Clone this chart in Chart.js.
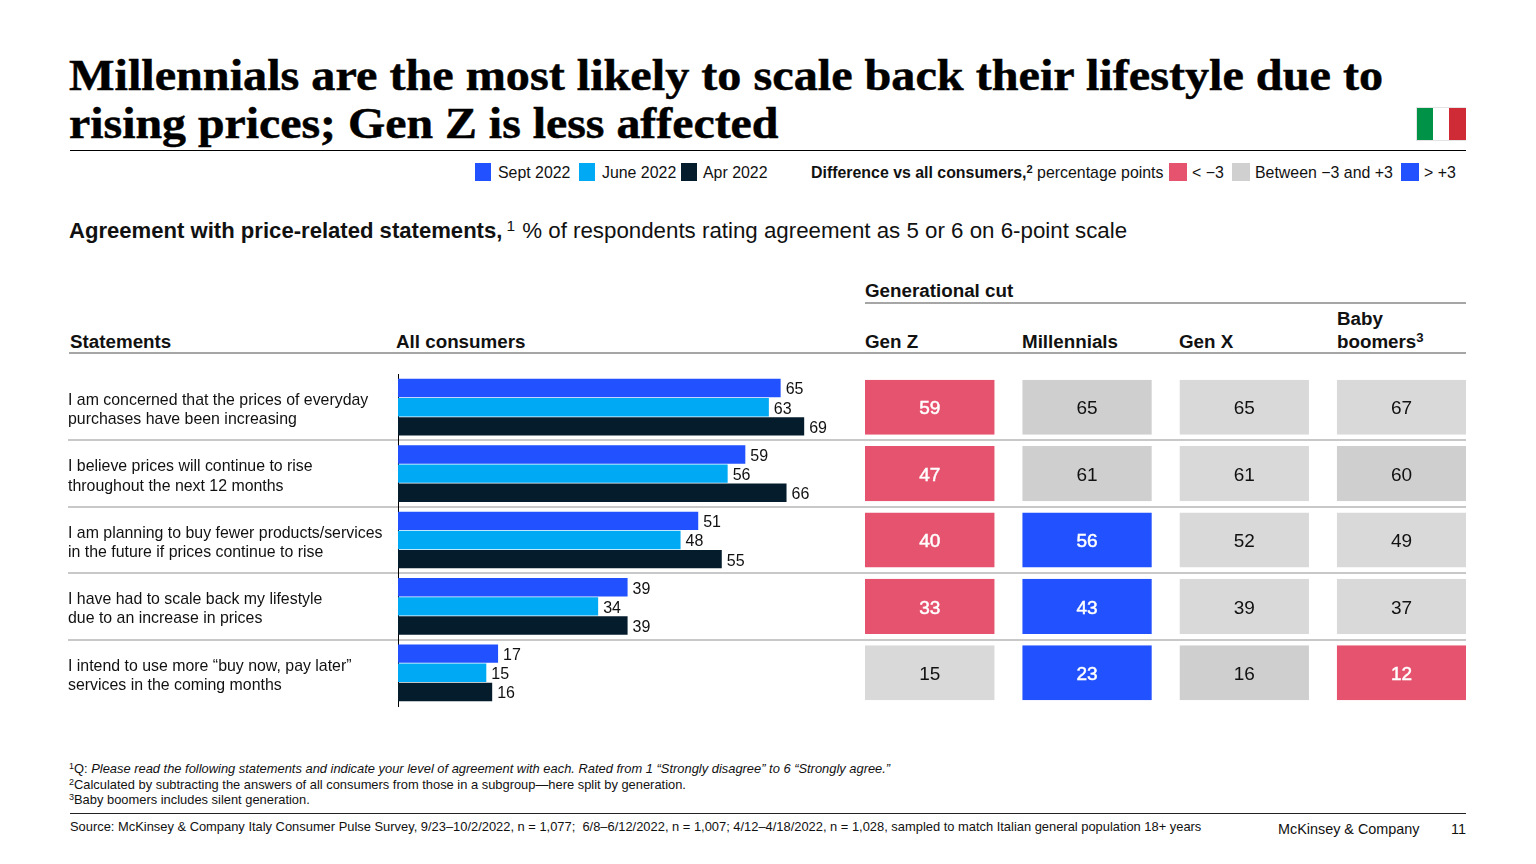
<!DOCTYPE html>
<html lang="en">

<head>
    <meta charset="UTF-8">
    <title>Millennials are the most likely to scale back their lifestyle</title>
    <script src="https://cdn.jsdelivr.net/npm/chart.js"></script>
    <style>
        body { margin: 0; background: #fff; width: 1536px; height: 864px; overflow: hidden; position: relative;
               font-family: "Liberation Sans", Arial, sans-serif; color: #111; }
        canvas { position: absolute; }
        .t { position: absolute; white-space: nowrap; line-height: 1; }
        .title { font-family: "Liberation Serif", serif; font-weight: bold; font-size: 45px; color: #000; left: 69px;
                 transform-origin: left top; -webkit-text-stroke: 0.5px #000; }
        .head { font-weight: bold; font-size: 18.8px; }
        .leg { font-size: 15.9px; top: 165px; }
        .foot { font-size: 12.9px; left: 69px; }
        .sw { position: absolute; top: 163px; width: 16px; height: 18px; }
        .sw.big { width: 18px; }
        .rule { position: absolute; }
        sup { font-size: 70%; line-height: 0; vertical-align: baseline; position: relative; top: -0.45em; }
    </style>
</head>

<body>
    <div class="t title" style="top:53px;transform:scaleX(1.071)">Millennials are the most likely to scale back their lifestyle due to</div>
    <div class="t title" style="top:101px;transform:scaleX(1.063)">rising prices; Gen Z is less affected</div>
    <div class="rule" style="left:70px;top:150px;width:1396px;height:1px;background:#000"></div>

    <div class="rule" style="left:1416px;top:107px;width:50px;height:34px;background:#e4e4e4"></div>
    <div class="rule" style="left:1417px;top:108px;width:16px;height:32px;background:#009246"></div>
    <div class="rule" style="left:1433px;top:108px;width:16px;height:32px;background:#fff"></div>
    <div class="rule" style="left:1449px;top:108px;width:17px;height:32px;background:#ce2b37"></div>

    <div class="sw" style="left:475px;background:#2251ff"></div>
    <div class="t leg" style="left:498px">Sept 2022</div>
    <div class="sw" style="left:579px;background:#00a9f4"></div>
    <div class="t leg" style="left:602px">June 2022</div>
    <div class="sw" style="left:681px;background:#051c2c"></div>
    <div class="t leg" style="left:703px">Apr 2022</div>
    <div class="t leg" style="left:811px"><b>Difference vs all consumers,<sup>2</sup></b> percentage points</div>
    <div class="sw big" style="left:1169px;background:#e6536f"></div>
    <div class="t leg" style="left:1192px">&lt; −3</div>
    <div class="sw big" style="left:1232px;background:#d0d0d0"></div>
    <div class="t leg" style="left:1255px">Between −3 and +3</div>
    <div class="sw big" style="left:1401px;background:#2251ff"></div>
    <div class="t leg" style="left:1424px">&gt; +3</div>

    <div class="t" style="left:69px;top:220px;font-size:22.1px"><b>Agreement with price-related statements,</b><sup style="margin-left:4px">1</sup><span style="font-size:22.3px;margin-left:1px"> % of respondents rating agreement as 5 or 6 on 6-point scale</span></div>

    <div class="t head" style="left:865px;top:282px">Generational cut</div>
    <div class="rule" style="left:865px;top:302px;width:601px;height:2px;background:#a6a6a6"></div>
    <div class="t head" style="left:70px;top:333px">Statements</div>
    <div class="t head" style="left:396px;top:333px">All consumers</div>
    <div class="t head" style="left:865px;top:333px">Gen Z</div>
    <div class="t head" style="left:1022px;top:333px">Millennials</div>
    <div class="t head" style="left:1179px;top:333px">Gen X</div>
    <div class="t head" style="left:1337px;top:310px">Baby</div>
    <div class="t head" style="left:1337px;top:333px">boomers<sup>3</sup></div>
    <div class="rule" style="left:69px;top:352px;width:1397px;height:2px;background:#a6a6a6"></div>

    <canvas id="barChart" style="left:0;top:370px"></canvas>
    <canvas id="cellChart" style="left:865px;top:370px"></canvas>

    <div class="t foot" style="top:763px"><sup>1</sup>Q: <i>Please read the following statements and indicate your level of agreement with each. Rated from 1 “Strongly disagree” to 6 “Strongly agree.”</i></div>
    <div class="t foot" style="top:779px"><sup>2</sup>Calculated by subtracting the answers of all consumers from those in a subgroup—here split by generation.</div>
    <div class="t foot" style="top:794px"><sup>3</sup>Baby boomers includes silent generation.</div>
    <div class="rule" style="left:70px;top:813px;width:1396px;height:1px;background:#222"></div>
    <div class="t foot" style="left:70px;top:821px">Source: McKinsey &amp; Company Italy Consumer Pulse Survey, 9/23–10/2/2022, n = 1,077;&nbsp; 6/8–6/12/2022, n = 1,007; 4/12–4/18/2022, n = 1,028, sampled to match Italian general population 18+ years</div>
    <div class="t" style="left:1278px;top:822px;font-size:14.4px">McKinsey &amp; Company</div>
    <div class="t" style="left:1451px;top:822px;font-size:14.4px">11</div>

    <script>
        var statements = [
            ["I am concerned that the prices of everyday", "purchases have been increasing"],
            ["I believe prices will continue to rise", "throughout the next 12 months"],
            ["I am planning to buy fewer products/services", "in the future if prices continue to rise"],
            ["I have had to scale back my lifestyle", "due to an increase in prices"],
            ["I intend to use more “buy now, pay later”", "services in the coming months"]
        ];
        var sept2022 = [65, 59, 51, 39, 17];
        var june2022 = [63, 56, 48, 34, 15];
        var apr2022 = [69, 66, 55, 39, 16];

        var genZ = [59, 47, 40, 33, 15];
        var millennials = [65, 61, 56, 43, 23];
        var genX = [65, 61, 52, 39, 16];
        var boomers = [67, 60, 49, 37, 12];

        // every cell takes one unit of the shared column axis
        var cellSpan = [1, 1, 1, 1, 1];

        // the slide uses two greys in the neutral band: "column-row" of the darker ones
        var darkerCells = ["1-0", "1-1", "3-1", "2-4"];

        var BLUE = "#2251ff", CYAN = "#00a9f4", NAVY = "#051c2c", RED = "#e6536f";
        var GREY = "#d9d9d9", GREY_DARK = "#cfcfcf", LINE = "#c8c8c8";
        var COLUMN_GAP = 27.8;

        function cellColor(values, col, row) {
            var diff = values[row] - sept2022[row];
            if (diff < -3) return RED;
            if (diff > 3) return BLUE;
            return darkerCells.indexOf(col + "-" + row) >= 0 ? GREY_DARK : GREY;
        }

        // the outer grid lines have no tick behind them, their index is 0 or undefined
        function separator(ctx) {
            return ctx.index ? LINE : "transparent";
        }

        var barLabels = {
            id: "barLabels",
            afterDatasetsDraw: function (chart) {
                var c = chart.ctx;
                c.save();
                c.font = "16px 'Liberation Sans'";
                c.fillStyle = "#111";
                c.textAlign = "left";
                c.textBaseline = "middle";
                chart.data.datasets.forEach(function (ds, d) {
                    chart.getDatasetMeta(d).data.forEach(function (bar, i) {
                        c.fillText(ds.data[i], bar.x + 5, bar.y + 2);
                    });
                });
                c.restore();
            }
        };

        var cellLabels = {
            id: "cellLabels",
            afterDatasetsDraw: function (chart) {
                var c = chart.ctx;
                c.save();
                c.textAlign = "center";
                c.textBaseline = "middle";
                c.font = "19px 'Liberation Sans'";
                chart.data.datasets.forEach(function (ds, d) {
                    chart.getDatasetMeta(d).data.forEach(function (bar, i) {
                        var color = cellColor(ds.values, d, i);
                        var neutral = color === GREY || color === GREY_DARK;
                        var x = bar.base + (bar.x - bar.base - COLUMN_GAP) / 2;
                        c.fillStyle = neutral ? "#111" : "#fff";
                        c.fillText(ds.values[i], x, bar.y + 2);
                        if (!neutral) {
                            c.strokeStyle = "#fff";
                            c.lineWidth = 0.5;
                            c.strokeText(ds.values[i], x, bar.y + 2);
                        }
                    });
                });
                c.restore();
            }
        };

        function sizeCanvas(id, w, h) {
            var el = document.getElementById(id);
            el.width = w;
            el.height = h;
            return el;
        }

        new Chart(sizeCanvas("barChart", 866, 340), {
            type: "bar",
            data: {
                labels: statements,
                datasets: [
                    { label: "Sept 2022", data: sept2022, backgroundColor: BLUE },
                    { label: "June 2022", data: june2022, backgroundColor: CYAN },
                    { label: "Apr 2022", data: apr2022, backgroundColor: NAVY }
                ]
            },
            options: {
                indexAxis: "y",
                responsive: false,
                animation: false,
                layout: { padding: { left: 68, top: 4, bottom: 4 } },
                categoryPercentage: 0.866,
                barPercentage: 0.96,
                plugins: { legend: { display: false }, tooltip: { enabled: false } },
                scales: {
                    x: { display: false, min: 0, max: 79.5 },
                    y: {
                        afterFit: function (scale) {
                            scale.width = 330;
                            scale.paddingTop = 0;
                            scale.paddingBottom = 0;
                        },
                        border: { color: "#000", width: 1 },
                        grid: { offset: true, color: separator, lineWidth: 2, tickLength: 330 },
                        ticks: {
                            crossAlign: "far",
                            padding: 0,
                            labelOffset: 3,
                            autoSkip: false,
                            color: "#111",
                            font: { family: "'Liberation Sans'", size: 15.9, lineHeight: 1.2 }
                        }
                    }
                }
            },
            plugins: [barLabels]
        });

        new Chart(sizeCanvas("cellChart", 601, 340), {
            type: "bar",
            data: {
                labels: statements,
                datasets: [genZ, millennials, genX, boomers].map(function (values, col) {
                    return {
                        label: ["Gen Z", "Millennials", "Gen X", "Baby boomers"][col],
                        data: cellSpan,
                        values: values,
                        backgroundColor: function (ctx) { return cellColor(values, col, ctx.dataIndex); },
                        borderColor: "transparent",
                        borderWidth: { right: COLUMN_GAP },
                        borderSkipped: false
                    };
                })
            },
            options: {
                indexAxis: "y",
                responsive: false,
                animation: false,
                layout: { padding: { top: 4, bottom: 4 } },
                categoryPercentage: 0.83,
                barPercentage: 1,
                plugins: { legend: { display: false }, tooltip: { enabled: false } },
                scales: {
                    x: { display: false, stacked: true, min: 0, max: 3.822 },
                    y: {
                        stacked: true,
                        afterFit: function (scale) { scale.width = 0; },
                        border: { display: false },
                        grid: { offset: true, color: separator, lineWidth: 2, drawTicks: false },
                        ticks: { display: false }
                    }
                }
            },
            plugins: [cellLabels]
        });
    </script>
</body>

</html>
